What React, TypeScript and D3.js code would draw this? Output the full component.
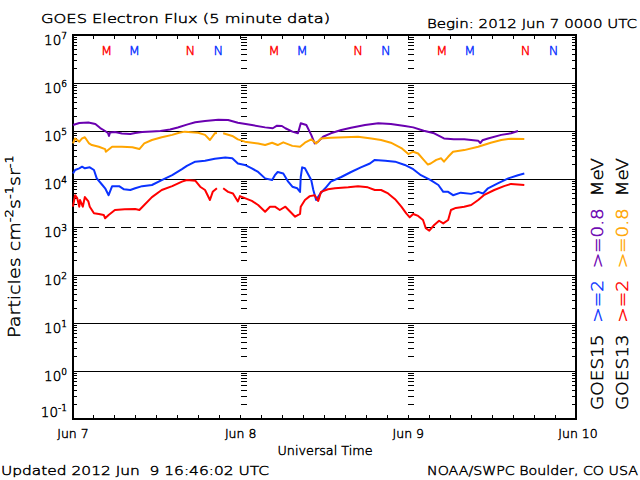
import React from "react";
import * as d3 from "d3";

type Pt = [number, number] | null;

// hours since 2012 Jun 7 00:00 UT, flux (particles cm^-2 s^-1 sr^-1)
const goes15E08: Pt[] = [[0,1.33e5],[0.9,1.47e5],[2.2,1.5e5],[3.2,1.4e5],[3.9,1.15e5],[4.6,1.0e5],[5.0,9.1e4],[5.15,7.9e4],[5.3,9.3e4],[6.0,9.5e4],[7.0,8.9e4],[8.2,8.7e4],[8.9,9.1e4],[9.9,9.5e4],[11.3,9.8e4],[12.5,1.0e5],[13.9,1.07e5],[15.0,1.18e5],[16.3,1.36e5],[17.5,1.52e5],[18.9,1.62e5],[20.8,1.72e5],[22.2,1.69e5],[23.6,1.49e5],[25.6,1.33e5],[27.5,1.19e5],[28.6,1.14e5],[29.2,1.29e5],[29.9,1.27e5],[30.4,1.14e5],[31.4,9.7e4],[32.2,8.95e4],[32.6,1.45e5],[33.4,1.33e5],[34.1,8.3e4],[34.6,5.5e4],[35.1,6.0e4],[35.8,7.6e4],[36.9,8.95e4],[38.4,1.05e5],[39.8,1.17e5],[41.8,1.33e5],[43.7,1.45e5],[45.5,1.4e5],[47.5,1.27e5],[48.7,1.19e5],[50.2,1.01e5],[51.7,8.95e4],[53.1,7.0e4],[54.5,6.7e4],[56.0,6.7e4],[58.0,6.3e4],[58.3,5.6e4],[58.6,6.4e4],[59.4,7.0e4],[61.3,8.3e4],[62.7,8.95e4],[63.7,1.0e5]];

const goes13E08: Pt[] = [[0,5.5e4],[0.3,7.0e4],[0.9,6.0e4],[1.3,7.0e4],[1.7,7.4e4],[2.3,5.5e4],[2.7,5.1e4],[3.7,4.7e4],[4.6,4.2e4],[4.7,3.7e4],[5.6,4.7e4],[7.0,4.7e4],[8.5,4.6e4],[9.5,4.2e4],[10.2,5.5e4],[11.3,6.5e4],[12.7,7.4e4],[14.2,8.3e4],[15.2,9.2e4],[16.0,9.7e4],[17.9,9.2e4],[18.9,8.3e4],[19.6,6.5e4],[20.3,8.95e4],[20.6,9.1e4],null,[21.5,8.95e4],[22.8,7.9e4],[23.6,6.7e4],[24.6,6.0e4],[26.5,5.5e4],[27.5,5.1e4],[28.5,5.7e4],[29.3,5.1e4],[30.1,5.8e4],[31.4,4.9e4],[32.5,4.7e4],[33.2,5.7e4],[34.1,6.7e4],[34.8,5.5e4],[35.5,7.0e4],[36.9,7.2e4],[38.9,7.4e4],[40.8,7.6e4],[42.7,7.0e4],[44.1,6.5e4],[45.5,5.7e4],[47.0,4.4e4],[48.0,3.3e4],[48.7,3.7e4],[49.4,3.4e4],[50.2,2.5e4],[50.8,2.0e4],[51.2,2.1e4],[52.0,2.5e4],[52.7,2.7e4],[53.1,2.3e4],[53.7,2.9e4],[54.4,3.7e4],[56.0,4.0e4],[58.0,4.7e4],[59.8,5.7e4],[61.3,6.5e4],[62.7,6.9e4],[64.6,6.8e4]];

const goes15E2: Pt[] = [[0,1.3e4],[0.3,1.54e4],[0.9,1.67e4],[1.3,1.8e4],[1.7,1.67e4],[2.4,1.75e4],[3.0,1.54e4],[3.4,1.03e4],[4.2,7.5e3],[4.6,6.4e3],[5.1,4.6e3],[5.6,7.1e3],[6.6,7.1e3],[7.3,6.1e3],[8.2,5.9e3],[8.9,6.4e3],[9.9,7.1e3],[11.3,7.5e3],[12.7,9.5e3],[14.2,1.2e4],[15.6,1.6e4],[16.3,1.87e4],[17.5,2.3e4],[18.9,2.4e4],[20.3,2.65e4],[21.8,2.8e4],[22.8,2.7e4],[23.6,2.1e4],[24.6,1.96e4],[25.6,1.67e4],[26.5,1.4e4],[27.5,1.03e4],[28.5,9.5e3],[28.9,1.2e4],[29.3,1.4e4],[30.1,1.3e4],[30.8,8.8e3],[31.4,6.9e3],[32.1,6.4e3],[32.5,5.4e3],[32.6,1.1e4],[32.8,1.75e4],[33.2,1.67e4],[33.6,1.3e4],[34.1,9.5e3],[34.4,5.9e3],[34.8,3.65e3],[35.4,5.0e3],[36.1,6.4e3],[36.9,8.8e3],[38.4,1.1e4],[39.8,1.4e4],[41.2,1.75e4],[42.5,2.1e4],[43.2,2.5e4],[44.7,2.4e4],[46.1,2.3e4],[47.5,1.96e4],[48.7,1.6e4],[49.8,1.2e4],[51.2,9.5e3],[52.3,7.5e3],[53.0,5.4e3],[53.7,5.4e3],[54.4,4.6e3],[55.5,5.2e3],[57.0,4.9e3],[58.0,5.4e3],[58.7,5.0e3],[59.4,6.4e3],[60.8,8.1e3],[62.3,1.03e4],[63.7,1.2e4],[64.6,1.3e4]];

const goes13E2: Pt[] = [[0,2.65e3],[0.3,4.6e3],[0.6,4.0e3],[0.9,2.65e3],[1.0,3.65e3],[1.4,2.65e3],[1.7,4.2e3],[2.2,3.4e3],[2.4,2.65e3],[3.0,1.93e3],[3.7,1.87e3],[4.4,1.78e3],[4.6,1.52e3],[5.1,1.78e3],[6.0,2.26e3],[7.4,2.34e3],[8.9,2.36e3],[9.5,2.26e3],[10.2,2.87e3],[11.3,4.2e3],[12.7,5.9e3],[14.2,7.1e3],[15.6,8.8e3],[16.3,9.5e3],[17.5,9.2e3],[18.2,6.9e3],[18.9,5.9e3],[19.6,3.65e3],[20.0,5.4e3],[20.6,6.4e3],null,[21.5,6.4e3],[22.2,5.4e3],[22.9,5.0e3],[23.6,3.4e3],[23.9,4.4e3],[24.6,4.0e3],[25.6,3.5e3],[26.5,2.87e3],[27.5,2.08e3],[28.2,2.65e3],[28.9,2.65e3],[29.6,2.26e3],[30.4,2.65e3],[31.1,2.08e3],[31.8,1.64e3],[32.5,1.87e3],[32.6,2.65e3],[33.2,3.65e3],[33.9,4.4e3],[34.6,4.6e3],[35.1,3.5e3],[35.5,5.4e3],[36.5,6.1e3],[37.5,6.4e3],[39.4,6.7e3],[40.8,7.1e3],[42.2,6.7e3],[43.2,5.9e3],[44.1,5.9e3],[45.1,5.0e3],[46.1,3.8e3],[47.0,2.65e3],[47.7,1.93e3],[48.2,1.59e3],[48.7,1.87e3],[49.4,1.7e3],[50.1,1.4e3],[50.5,940],[51.0,840],[51.7,1.1e3],[52.4,1.35e3],[53.0,1.19e3],[53.7,1.4e3],[54.1,2.26e3],[54.8,2.5e3],[56.0,2.65e3],[57.0,2.87e3],[58.0,3.65e3],[58.8,4.6e3],[60.3,5.9e3],[61.7,7.1e3],[62.7,7.9e3],[64.6,7.5e3]];

const dayLabels = ["Jun 7", "Jun 8", "Jun 9", "Jun 10"];
const decadeExps = [7, 6, 5, 4, 3, 2, 1, 0, -1];
// local midnight (M) / noon (N) markers, hours UT within each day
const markerHours = [4.8, 8.8, 16.8, 20.8];
const markerLabels = ["M", "M", "N", "N"];
const markerSat = ["g13", "g15", "g13", "g15"];

const COLORS = {
  g15e08: "#6a00b0",
  g13e08: "#ffa500",
  g15e2: "#0a32ff",
  g13e2: "#ff0000",
};
const FONT = "'DejaVu Sans', sans-serif";
const FW = 200;
const TS = 0.45; // text stroke to darken the thin face

export default function App() {
  const x = d3.scaleLinear().domain([0, 72]).range([73, 576]);
  const y = d3.scaleLog().domain([1e-1, 1e7]).range([419, 35]);
  const [x0, x1] = x.range();
  const [yb, yt] = y.range();

  const line = d3
    .line<Pt>()
    .defined((d) => d !== null)
    .x((d) => x((d as [number, number])[0]))
    .y((d) => y((d as [number, number])[1]));

  const minorVals: number[] = [];
  for (let e = -1; e < 7; e++) for (let k = 2; k <= 9; k++) minorVals.push(k * Math.pow(10, e));

  const xTicks = d3.range(3, 72, 3);
  const dayLines = [24, 48];

  return (
    <svg
      width={640}
      height={480}
      style={{ position: "absolute", left: 0, top: 0, background: "#fff" }}
      fontFamily={FONT}
      fontWeight={FW}
    >
      <rect x={0} y={0} width={640} height={480} fill="#fff" />
      <g fill="#000" stroke="#000" strokeWidth={TS}>
        <text x={41} y={23} fontSize={13} textLength={289} lengthAdjust="spacingAndGlyphs">
          GOES Electron Flux (5 minute data)
        </text>
        <text x={427} y={28} fontSize={13} textLength={210} lengthAdjust="spacingAndGlyphs">
          Begin: 2012 Jun 7 0000 UTC
        </text>
      </g>

      {/* decade grid lines */}
      {decadeExps
        .filter((e) => e !== 7 && e !== -1)
        .map((e) => (
          <line
            key={"g" + e}
            x1={x0}
            x2={x1}
            y1={y(Math.pow(10, e))}
            y2={y(Math.pow(10, e))}
            stroke="#000"
            strokeWidth={1}
            strokeDasharray={e === 3 ? "10,6" : undefined}
            shapeRendering="crispEdges"
          />
        ))}

      {/* minor y ticks on left, right and at day boundaries */}
      {minorVals.map((v, i) => (
        <g key={"m" + i} stroke="#000" strokeWidth={1} shapeRendering="crispEdges">
          <line x1={x0} x2={x0 + 4} y1={y(v)} y2={y(v)} />
          <line x1={x1 - 4} x2={x1} y1={y(v)} y2={y(v)} />
          {dayLines.map((h) => (
            <line key={h} x1={x(h)} x2={x(h) + 6} y1={y(v)} y2={y(v)} />
          ))}
        </g>
      ))}
      {decadeExps.map((e) =>
        dayLines.map((h) => (
          <line
            key={"dm" + e + h}
            x1={x(h)}
            x2={x(h) + 7}
            y1={y(Math.pow(10, e))}
            y2={y(Math.pow(10, e))}
            stroke="#000"
            strokeWidth={1}
            shapeRendering="crispEdges"
          />
        ))
      )}

      {/* x ticks */}
      {xTicks.map((h) => (
        <g key={"xt" + h} stroke="#000" strokeWidth={1} shapeRendering="crispEdges">
          <line x1={x(h)} x2={x(h)} y1={yb} y2={yb - 4} />
          <line x1={x(h)} x2={x(h)} y1={yt} y2={yt + 4} />
        </g>
      ))}

      {/* frame */}
      <rect
        x={x0}
        y={yt}
        width={x1 - x0}
        height={yb - yt}
        fill="none"
        stroke="#000"
        strokeWidth={1.6}
        shapeRendering="crispEdges"
      />

      {/* M / N markers */}
      {[0, 1, 2].map((day) =>
        markerHours.map((h, i) => {
          const c = markerSat[i] === "g13" ? "#ff0000" : "#0a32ff";
          return (
            <text
              key={"mk" + day + i}
              x={x(day * 24 + h)}
              y={55}
              fontSize={13}
              textAnchor="middle"
              fill={c}
              stroke={c}
              strokeWidth={TS}
            >
              {markerLabels[i]}
            </text>
          );
        })
      )}

      {/* data */}
      <path d={line(goes15E08) || ""} fill="none" stroke={COLORS.g15e08} strokeWidth={2} strokeLinejoin="round" />
      <path d={line(goes13E08) || ""} fill="none" stroke={COLORS.g13e08} strokeWidth={2} strokeLinejoin="round" />
      <path d={line(goes15E2) || ""} fill="none" stroke={COLORS.g15e2} strokeWidth={2} strokeLinejoin="round" />
      <path d={line(goes13E2) || ""} fill="none" stroke={COLORS.g13e2} strokeWidth={2} strokeLinejoin="round" />

      <g fill="#000" stroke="#000" strokeWidth={TS}>
        {/* y tick labels */}
        {decadeExps.map((e) => {
          const ty = y(Math.pow(10, e));
          const base = e === -1 ? ty - 2 : ty + 10;
          return (
            <text key={"yl" + e} x={67} y={base} fontSize={13.5} textAnchor="end">
              10
              <tspan dy={-6} fontSize={9}>
                {String(e)}
              </tspan>
            </text>
          );
        })}

        {/* y axis title */}
        <g transform="translate(20,338) rotate(-90)">
          <text x={0} y={0} fontSize={16} textLength={183} lengthAdjust="spacingAndGlyphs">
            Particles cm
            <tspan dy={-7} fontSize={11}>-2</tspan>
            <tspan dy={7}>s</tspan>
            <tspan dy={-7} fontSize={11}>-1</tspan>
            <tspan dy={7}>sr</tspan>
            <tspan dy={-7} fontSize={11}>-1</tspan>
          </text>
        </g>

        {/* x labels */}
        {dayLabels.map((lab, i) => (
          <text key={lab} x={x(i * 24) + (i === 3 ? 2 : 0)} y={438} fontSize={12.5} textAnchor="middle">
            {lab}
          </text>
        ))}
        <text x={325} y={455} fontSize={12.5} textAnchor="middle" textLength={95} lengthAdjust="spacingAndGlyphs">
          Universal Time
        </text>
        <text x={1} y={475} fontSize={13} textLength={268} lengthAdjust="spacingAndGlyphs" xmlSpace="preserve">
          Updated 2012 Jun  9 16:46:02 UTC
        </text>
        <text x={427} y={475} fontSize={13} textLength={211} lengthAdjust="spacingAndGlyphs">
          NOAA/SWPC Boulder, CO USA
        </text>
      </g>

      {/* legend (rotated) */}
      <g transform="translate(603,410) rotate(-90)" strokeWidth={TS}>
        <text x={0} y={0} fontSize={15} textLength={252} lengthAdjust="spacingAndGlyphs" xmlSpace="preserve">
          <tspan fill="#000" stroke="#000">GOES15  </tspan>
          <tspan fill={COLORS.g15e2} stroke={COLORS.g15e2}>&gt;=2  </tspan>
          <tspan fill={COLORS.g15e08} stroke={COLORS.g15e08}>&gt;=0.8  </tspan>
          <tspan fill="#000" stroke="#000">MeV</tspan>
        </text>
      </g>
      <g transform="translate(628,410) rotate(-90)" strokeWidth={TS}>
        <text x={0} y={0} fontSize={15} textLength={252} lengthAdjust="spacingAndGlyphs" xmlSpace="preserve">
          <tspan fill="#000" stroke="#000">GOES13  </tspan>
          <tspan fill={COLORS.g13e2} stroke={COLORS.g13e2}>&gt;=2  </tspan>
          <tspan fill={COLORS.g13e08} stroke={COLORS.g13e08}>&gt;=0.8  </tspan>
          <tspan fill="#000" stroke="#000">MeV</tspan>
        </text>
      </g>
    </svg>
  );
}
